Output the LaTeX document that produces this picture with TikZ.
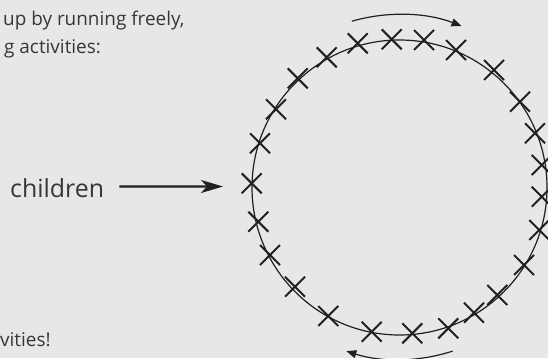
\documentclass[tikz,border=0pt]{standalone}
\usepackage{fontspec}
\setmainfont{Open Sans}
\usetikzlibrary{arrows.meta}
\definecolor{bg}{RGB}{230,231,233}
\definecolor{ink}{RGB}{35,31,32}
\definecolor{txt}{RGB}{55,55,58}
\tikzset{
  xmark/.style={ink, line width=2bp},
  lbl/.style={anchor=base west, inner sep=0pt, text=txt},
  ring/.style={ink, line width=1.2bp},
  turn/.style={ink, line width=1.2bp, -{Triangle[length=10bp,width=8bp]}},
  feed/.style={ink, line width=2.4bp, -{Stealth[length=22bp,width=13bp,inset=6bp]}}
}
\newcommand{\xm}[2]{\draw[xmark] (#1-10,#2-10) -- (#1+10,#2+10) (#1-10,#2+10) -- (#1+10,#2-10);}
\begin{document}
\begin{tikzpicture}[x=1bp,y=-1bp]
\fill[bg] (0,0) rectangle (548,358);
\useasboundingbox (0,0) rectangle (548,358);
% texts
\node[lbl, font=\fontsize{19}{23}\selectfont] (t1) at (3,25) {up by running freely,};
\node[lbl, font=\fontsize{19}{23}\selectfont] (t2) at (4,53) {g activities:};
\node[lbl, font=\fontsize{19}{23}\selectfont] (t3) at (0,346.5) {vities!};
\node[lbl, font=\fontsize{25}{30}\selectfont] (children) at (10,197) {children};
% ring
\node[ring, draw, circle, minimum size=295bp, inner sep=0pt] (track) at (399.5,187.5) {};
% rotation arrows
\draw[turn] (track.center) ++(-106:173) arc[start angle=-106, end angle=-69, radius=173];
\draw[turn] (track.center) ++(72:172) arc[start angle=72, end angle=108, radius=172];
\coordinate (tip) at (223,186.5);
\draw[feed] (children.base east) ++(15,-10.5) coordinate (tail) -- (tip);
% crosses
\xm{357.7}{43.3}\xm{391.7}{39.3}\xm{424}{40}\xm{456}{50}\xm{494}{70}
\xm{520}{101.7}\xm{535}{133.3}\xm{541.7}{165}\xm{541.7}{196.7}\xm{539.3}{230}
\xm{524}{265}\xm{497.3}{295}\xm{474}{312.7}\xm{448.3}{328.3}\xm{412.3}{333.3}
\xm{371.7}{331.7}\xm{328.3}{316}\xm{295}{286.7}\xm{270}{255}\xm{258.3}{221.7}
\xm{251.7}{183.3}\xm{260}{143.3}\xm{276}{109.3}\xm{297.7}{78.3}\xm{326.7}{57.3}
\end{tikzpicture}
\end{document}
